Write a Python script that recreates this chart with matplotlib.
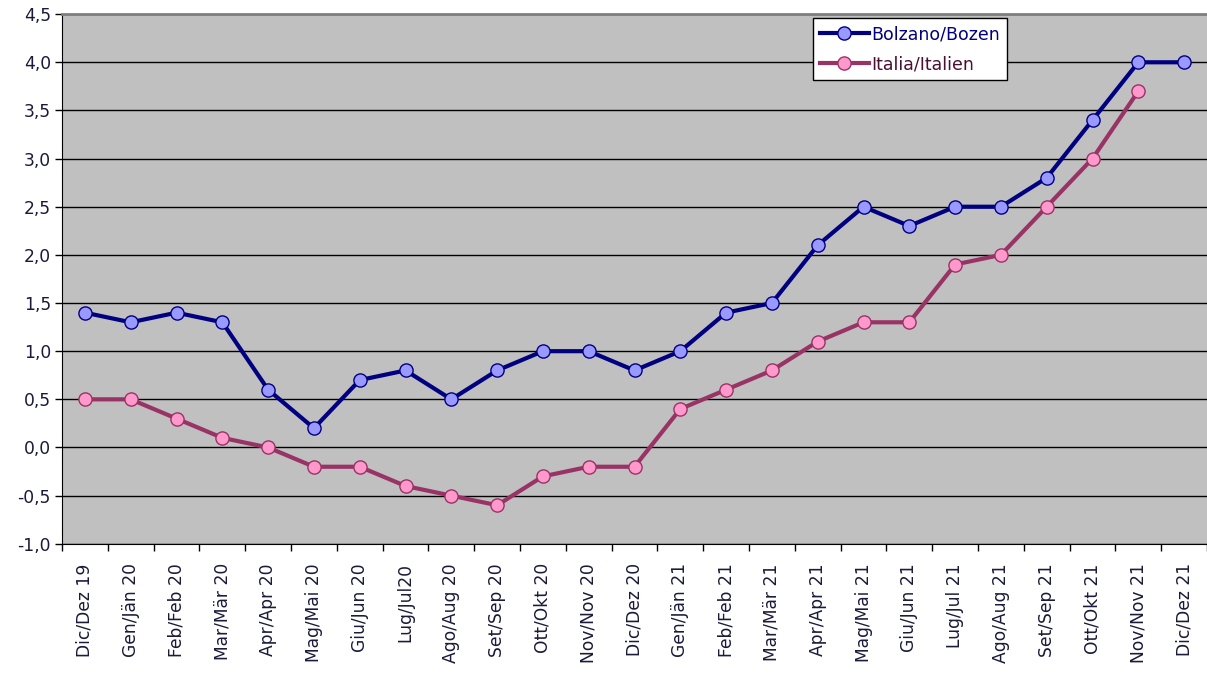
import numpy as np
import matplotlib.pyplot as plt

# Data ==================================================================================================================

months = ["Dic/Dez 19", "Gen/Jän 20", "Feb/Feb 20", "Mar/Mär 20", "Apr/Apr 20", "Mag/Mai 20", "Giu/Jun 20",
          "Lug/Jul20", "Ago/Aug 20", "Set/Sep 20", "Ott/Okt 20", "Nov/Nov 20", "Dic/Dez 20", "Gen/Jän 21",
          "Feb/Feb 21", "Mar/Mär 21", "Apr/Apr 21", "Mag/Mai 21", "Giu/Jun 21", "Lug/Jul 21", "Ago/Aug 21",
          "Set/Sep 21", "Ott/Okt 21", "Nov/Nov 21", "Dic/Dez 21"]

bolzano = [1.4, 1.3, 1.4, 1.3, 0.6, 0.2, 0.7, 0.8, 0.5, 0.8, 1.0, 1.0, 0.8, 1.0, 1.4, 1.5, 2.1, 2.5, 2.3, 2.5,
           2.5, 2.8, 3.4, 4.0, 4.0]
italia = [0.5, 0.5, 0.3, 0.1, 0.0, -0.2, -0.2, -0.4, -0.5, -0.6, -0.3, -0.2, -0.2, 0.4, 0.6, 0.8, 1.1, 1.3, 1.3,
          1.9, 2.0, 2.5, 3.0, 3.7, np.nan]

yticks = np.arange(-1.0, 4.51, 0.5)

# Plot ==================================================================================================================

fig = plt.figure(figsize=(12.07, 6.73), dpi=100)
ax = fig.add_axes([0.0514, 0.192, 0.9486, 0.787])
ax.set_facecolor("#C0C0C0")

x = np.arange(len(months))
ax.plot(x, bolzano, color="#000080", lw=3.0, marker="o", ms=9.5, mfc="#9999FF", mec="#000080", mew=1.0,
        label="Bolzano/Bozen", zorder=3)
ax.plot(x, italia, color="#993366", lw=3.0, marker="o", ms=9.5, mfc="#FF99CC", mec="#993366", mew=1.0,
        label="Italia/Italien", zorder=3)

ax.set_xlim(-0.5, len(months) - 0.5)
ax.set_ylim(-1.0, 4.5)
ax.set_yticks(yticks)
ax.set_yticklabels([f"{v:.1f}".replace(".", ",") for v in yticks])
ax.yaxis.grid(True, color="black", lw=1.0)
ax.set_axisbelow(True)

ax.set_xticks(x)
ax.set_xticklabels(months, rotation=90)
ax.set_xticks(np.arange(-0.5, len(months), 1), minor=True)
ax.tick_params(axis="x", which="major", length=0, pad=14)
ax.tick_params(axis="x", which="minor", length=5, width=1, color="black")
ax.tick_params(axis="y", length=5, width=1, color="black", pad=3)
for lab in ax.get_xticklabels() + ax.get_yticklabels():
    lab.set_fontsize(12.3)
    lab.set_color("#1a1a3a")

ax.spines["top"].set_color("#808080")
ax.spines["top"].set_linewidth(2)
ax.spines["right"].set_visible(False)
ax.spines["left"].set_color("black")
ax.spines["bottom"].set_color("black")

leg = ax.legend(loc="upper left", bbox_to_anchor=(0.656, 0.9925), fontsize=12.5, frameon=True, fancybox=False,
                borderpad=0.4, handlelength=2.8, handletextpad=0.15, labelspacing=0.7, borderaxespad=0)
leg.get_frame().set_edgecolor("black")
leg.get_frame().set_facecolor("white")
leg.get_frame().set_alpha(1)
leg.get_frame().set_linewidth(1)
leg.get_texts()[0].set_color("#000080")
leg.get_texts()[1].set_color("#4a1030")

fig.savefig("out.png", dpi=100, facecolor="white")
